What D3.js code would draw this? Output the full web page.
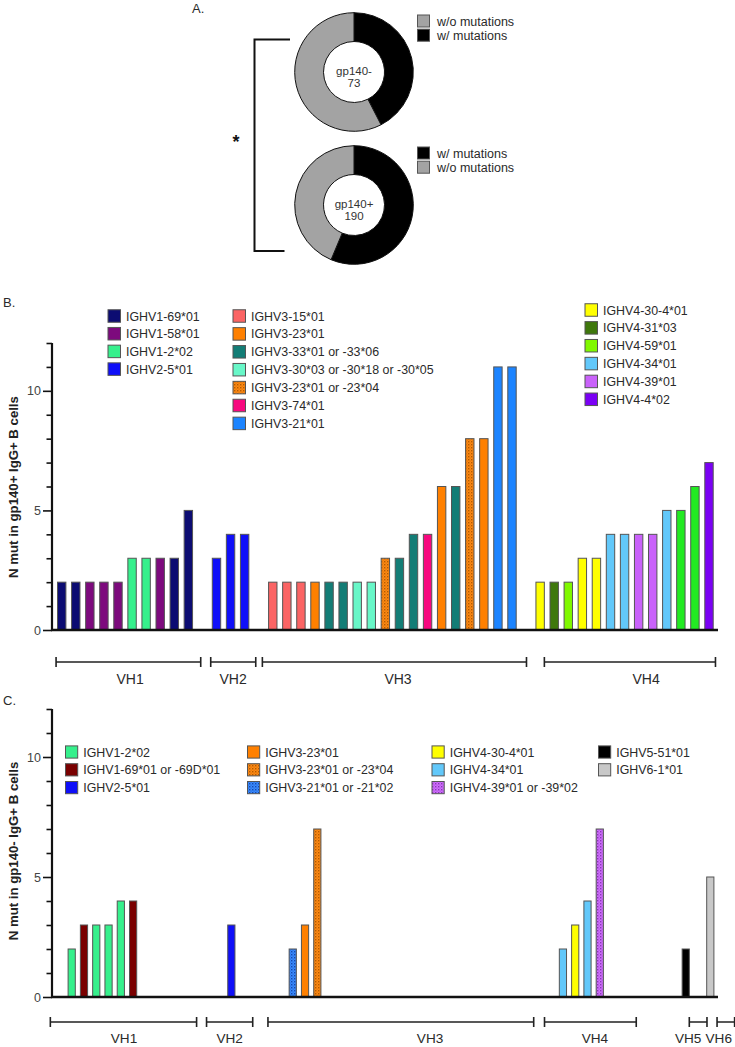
<!DOCTYPE html>
<html><head><meta charset="utf-8">
<script src="https://cdn.jsdelivr.net/npm/d3@7"></script>
<style>
body{margin:0;background:#fff}
svg{display:block}
text{font-family:"Liberation Sans",Arial,Helvetica,sans-serif}
</style>
</head><body><svg id="chart" width="735" height="1047"></svg>
<script>
// ---------- DATA ----------
const donutNames = ["gp140-", "gp140+"];
const donutTotals = [73, 190];
const donutMutated = [31, 107];
const donutLegends = [["w/o mutations", "w/ mutations"], ["w/ mutations", "w/o mutations"]];

const yMajorTicks = [0, 5, 10];
const yMinorTicks = [1, 2, 3, 4, 6, 7, 8, 9, 11, 12];

// Panel B: one entry per slot (null = empty slot)
const bGenes = [
  "IGHV1-69*01","IGHV1-69*01","IGHV1-58*01","IGHV1-58*01","IGHV1-58*01",
  "IGHV1-2*02","IGHV1-2*02","IGHV1-58*01","IGHV1-69*01","IGHV1-69*01",
  null,
  "IGHV2-5*01","IGHV2-5*01","IGHV2-5*01",
  null,
  "IGHV3-15*01","IGHV3-15*01","IGHV3-15*01","IGHV3-23*01",
  "IGHV3-33*01 or -33*06","IGHV3-33*01 or -33*06",
  "IGHV3-30*03 or -30*18 or -30*05","IGHV3-30*03 or -30*18 or -30*05",
  "IGHV3-23*01 or -23*04","IGHV3-33*01 or -33*06","IGHV3-33*01 or -33*06","IGHV3-74*01",
  "IGHV3-23*01","IGHV3-33*01 or -33*06","IGHV3-23*01 or -23*04","IGHV3-23*01",
  "IGHV3-21*01","IGHV3-21*01",
  null,
  "IGHV4-30-4*01","IGHV4-31*03","IGHV4-59*01","IGHV4-30-4*01","IGHV4-30-4*01",
  "IGHV4-34*01","IGHV4-34*01","IGHV4-39*01","IGHV4-39*01","IGHV4-34*01",
  "IGHV4 green","IGHV4 green","IGHV4-4*02"
];
const bValues = [
  2,2,2,2,2,3,3,3,3,5,
  null,
  3,4,4,
  null,
  2,2,2,2,2,2,2,2,3,3,4,4,6,6,8,8,11,11,
  null,
  2,2,2,3,3,4,4,4,4,5,5,6,7
];
const bLegendCol1 = ["IGHV1-69*01","IGHV1-58*01","IGHV1-2*02","IGHV2-5*01"];
const bLegendCol2 = ["IGHV3-15*01","IGHV3-23*01","IGHV3-33*01 or -33*06","IGHV3-30*03 or -30*18 or -30*05","IGHV3-23*01 or -23*04","IGHV3-74*01","IGHV3-21*01"];
const bLegendCol3 = ["IGHV4-30-4*01","IGHV4-31*03","IGHV4-59*01","IGHV4-34*01","IGHV4-39*01","IGHV4-4*02"];
const bGroups = ["VH1","VH2","VH3","VH4"];

// Panel C
const cGenes = [
  "IGHV1-2*02","IGHV1-69*01 or -69D*01","IGHV1-2*02","IGHV1-2*02","IGHV1-2*02","IGHV1-69*01 or -69D*01",
  null,null,null,null,null,null,null,
  "IGHV2-5*01",
  null,null,null,null,
  "IGHV3-21*01 or -21*02","IGHV3-23*01","IGHV3-23*01 or -23*04",
  null,null,null,null,null,null,null,null,null,null,null,null,null,null,null,null,null,null,null,
  "IGHV4-34*01","IGHV4-30-4*01","IGHV4-34*01","IGHV4-39*01 or -39*02",
  null,null,null,null,null,null,
  "IGHV5-51*01",
  null,
  "IGHV6-1*01"
];
const cValues = [
  2,3,3,3,4,4,
  null,null,null,null,null,null,null,
  3,
  null,null,null,null,
  2,3,7,
  null,null,null,null,null,null,null,null,null,null,null,null,null,null,null,null,null,null,null,
  2,3,4,7,
  null,null,null,null,null,null,
  2,
  null,
  5
];
const cLegendCols = [
  ["IGHV1-2*02","IGHV1-69*01 or -69D*01","IGHV2-5*01"],
  ["IGHV3-23*01","IGHV3-23*01 or -23*04","IGHV3-21*01 or -21*02"],
  ["IGHV4-30-4*01","IGHV4-34*01","IGHV4-39*01 or -39*02"],
  ["IGHV5-51*01","IGHV6-1*01"]
];
const cGroups = ["VH1","VH2","VH3","VH4","VH5","VH6"];

// ---------- STYLES ----------
const geneColors = {
  "IGHV1-69*01": "#0c0c72",
  "IGHV1-58*01": "#7d0a7d",
  "IGHV1-2*02": "#36f08c",
  "IGHV2-5*01": "#0f0ff8",
  "IGHV3-15*01": "#fb6464",
  "IGHV3-23*01": "#ff8000",
  "IGHV3-33*01 or -33*06": "#137d76",
  "IGHV3-30*03 or -30*18 or -30*05": "#68f7c8",
  "IGHV3-23*01 or -23*04": "url(#dotOrange)",
  "IGHV3-74*01": "#f7087f",
  "IGHV3-21*01": "#1c84ff",
  "IGHV4-30-4*01": "#ffff00",
  "IGHV4-31*03": "#3f780c",
  "IGHV4-59*01": "#80f800",
  "IGHV4 green": "#22ea22",
  "IGHV4-34*01": "#62c8fa",
  "IGHV4-39*01": "#c962fa",
  "IGHV4-4*02": "#7a00f4",
  "IGHV1-69*01 or -69D*01": "#7a0000",
  "IGHV3-21*01 or -21*02": "url(#dotBlue)",
  "IGHV4-39*01 or -39*02": "url(#dotViolet)",
  "IGHV5-51*01": "#000000",
  "IGHV6-1*01": "#c8c8c8"
};

const svg = d3.select("#chart");
svg.append("rect").attr("width",735).attr("height",1047).attr("fill","#fff");
const defs = svg.append("defs");
function dotPattern(id, base, dot) {
  const p = defs.append("pattern").attr("id", id).attr("patternUnits","userSpaceOnUse")
    .attr("width", 3).attr("height", 3);
  p.append("rect").attr("width",3).attr("height",3).attr("fill", base);
  p.append("rect").attr("x",0).attr("y",0).attr("width",1.4).attr("height",1.4).attr("fill", dot);
  p.append("rect").attr("x",1.5).attr("y",1.5).attr("width",1.2).attr("height",1.2).attr("fill", dot).attr("opacity",0.5);
}
dotPattern("dotOrange", "#ff8a14", "#b35a00");
dotPattern("dotBlue", "#3a8cff", "#1448b0");
dotPattern("dotViolet", "#d070ff", "#8c34b8");

const TXT = "#2a2a2a";

// ---------- PANEL A ----------
svg.append("text").attr("x",192).attr("y",13).attr("font-size",13).attr("fill",TXT).text("A.");
const pie = d3.pie().sort(null).value(d => d);
const arc = d3.arc().innerRadius(30.5).outerRadius(59.3);
const donutCY = [72, 205];
donutNames.forEach((name, i) => {
  const g = svg.append("g").attr("transform", `translate(354,${donutCY[i]})`);
  const vals = [donutMutated[i], donutTotals[i] - donutMutated[i]];
  g.selectAll("path").data(pie(vals)).join("path")
    .attr("d", arc)
    .attr("fill", (d, j) => j === 0 ? "#000" : "#a3a3a3")
    .attr("stroke", "#111").attr("stroke-width", 1);
  g.append("text").attr("text-anchor","middle").attr("y",3).attr("font-size",11.5).attr("fill","#333").text(name);
  g.append("text").attr("text-anchor","middle").attr("y",15).attr("font-size",11.5).attr("fill","#333").text(donutTotals[i]);
  const lg = svg.append("g").attr("transform", `translate(417,${i === 0 ? 21 : 153})`);
  donutLegends[i].forEach((lab, k) => {
    lg.append("rect").attr("x",0.5).attr("y", k*14.2 - 6).attr("width",12).attr("height",12)
      .attr("fill", lab.startsWith("w/o") ? "#a3a3a3" : "#000").attr("stroke","#555").attr("stroke-width",1);
    lg.append("text").attr("x",20).attr("y", k*14.2 + 4.5).attr("font-size",12.5).attr("fill",TXT).text(lab);
  });
});
// significance bracket
svg.append("path").attr("d","M290,39.5 H254.5 V251 H284.5").attr("fill","none").attr("stroke","#111").attr("stroke-width",2);
svg.append("text").attr("x",236).attr("y",148).attr("text-anchor","middle").attr("font-size",18).attr("font-weight","bold").attr("fill","#111").text("*");

// ---------- helpers ----------
function drawYAxis(y, titleText, titleY) {
  const ax = svg.append("g");
  ax.append("g").attr("transform","translate(52,0)")
    .call(d3.axisLeft(y).tickValues(yMinorTicks).tickSize(5.5).tickFormat(""))
    .call(g => g.select(".domain").remove())
    .call(g => g.selectAll("line").attr("stroke","#111").attr("stroke-width",1.6));
  ax.append("g").attr("transform","translate(52,0)")
    .call(d3.axisLeft(y).tickValues(yMajorTicks).tickSize(9).tickPadding(2).tickFormat(d3.format("d")))
    .call(g => g.select(".domain").remove())
    .call(g => g.selectAll("line").attr("stroke","#111").attr("stroke-width",1.6))
    .call(g => g.selectAll("text").attr("font-size",12.5).attr("fill","#444")
      .attr("font-family","'Liberation Sans',Arial,sans-serif"));
  const [r0, r1] = y.range();
  ax.append("line").attr("x1",52).attr("x2",52).attr("y1",r1).attr("y2",r0 + 1)
    .attr("stroke","#111").attr("stroke-width",2.2);
  svg.append("text").attr("transform",`translate(18,${titleY}) rotate(-90)`)
    .attr("text-anchor","middle").attr("font-size",13.2).attr("font-weight","bold").attr("fill","#222")
    .text(titleText);
}
function drawBars(x, y, genes, values, barW) {
  const data = values.map((v, i) => ({ i, v, gene: genes[i] })).filter(d => d.v != null);
  svg.append("g").selectAll("rect").data(data).join("rect")
    .attr("x", d => x(d.i) - barW/2)
    .attr("y", d => y(d.v))
    .attr("width", barW)
    .attr("height", d => y(0) - y(d.v))
    .attr("fill", d => geneColors[d.gene])
    .attr("stroke", "#555").attr("stroke-width", 1);
}
function drawBaseline(y) {
  svg.append("line").attr("x1",51).attr("x2",718).attr("y1",y(0)).attr("y2",y(0))
    .attr("stroke","#111").attr("stroke-width",2.4);
}
function drawLegendCol(items, sqX, y0, pitch, sq) {
  const g = svg.append("g");
  items.forEach((lab, k) => {
    const cy = y0 + k * pitch;
    g.append("rect").attr("x", sqX + 0.5).attr("y", cy - sq/2).attr("width", sq).attr("height", sq)
      .attr("fill", geneColors[lab]).attr("stroke","#555").attr("stroke-width",1);
    g.append("text").attr("x", sqX + sq + 6).attr("y", cy + 4.5).attr("font-size",12.4).attr("fill",TXT).text(lab);
  });
}
function drawGroups(x, names, spans, labelPos, lineY, labelY, fs) {
  const g = svg.append("g");
  names.forEach((n, k) => {
    const a = x(spans[k][0]), b = x(spans[k][1]);
    g.append("path").attr("d", `M${a},${lineY-5} V${lineY+5} M${a},${lineY} H${b} M${b},${lineY-5} V${lineY+5}`)
      .attr("fill","none").attr("stroke","#222").attr("stroke-width",1.6);
    const t = g.append("text").attr("x", x(labelPos[k])).attr("y", labelY).attr("text-anchor","middle")
      .attr("font-size",fs).attr("fill",TXT).text(n);
    const w = t.node().getComputedTextLength();
    const cx = x(labelPos[k]);
    if (cx + w / 2 > 732) t.attr("x", 732 - w / 2);
  });
}

// ---------- PANEL B ----------
svg.append("text").attr("x",3).attr("y",307).attr("font-size",13).attr("fill",TXT).text("B.");
const yB = d3.scaleLinear().domain([0, 12]).range([630, 343]);
const xB = d3.scaleLinear().domain([0, bValues.length - 1]).range([61.7, 709]);
drawYAxis(yB, "N mut in gp140+ IgG+ B cells", 487);
drawBars(xB, yB, bGenes, bValues, 8.4);
drawBaseline(yB);
drawLegendCol(bLegendCol1, 107.5, 316, 17.7, 12.5);
drawLegendCol(bLegendCol2, 232.5, 316, 17.9, 12.5);
drawLegendCol(bLegendCol3, 584.5, 310, 17.86, 12.5);
drawGroups(xB, bGroups,
  [[-0.4, 9.88], [10.59, 13.79], [14.26, 33.03], [34.3, 46.46]],
  [4.86, 12.18, 23.9, 41.53], 662, 684, 14);

// ---------- PANEL C ----------
svg.append("text").attr("x",3).attr("y",705).attr("font-size",13).attr("fill",TXT).text("C.");
const yC = d3.scaleLinear().domain([0, 12]).range([997, 709]);
const xC = d3.scaleLinear().domain([0, cValues.length - 1]).range([71.7, 710.3]);
drawYAxis(yC, "N mut in gp140- IgG+ B cells", 851);
drawBars(xC, yC, cGenes, cValues, 7.2);
drawBaseline(yC);
const cLegendX = [65, 247, 431.5, 598];
cLegendCols.forEach((col, k) => drawLegendCol(col, cLegendX[k], 752, 17.8, 12.2));
drawGroups(xC, cGroups,
  [[-1.74, 10.17], [10.98, 14.74], [15.98, 37.62], [38.5, 45.97], [50.29, 51.73], [52.55, 53.98]],
  [4.26, 12.86, 29.18, 42.6, 50.2, 53.45], 1022, 1043, 13.6);
</script>
</body></html>
